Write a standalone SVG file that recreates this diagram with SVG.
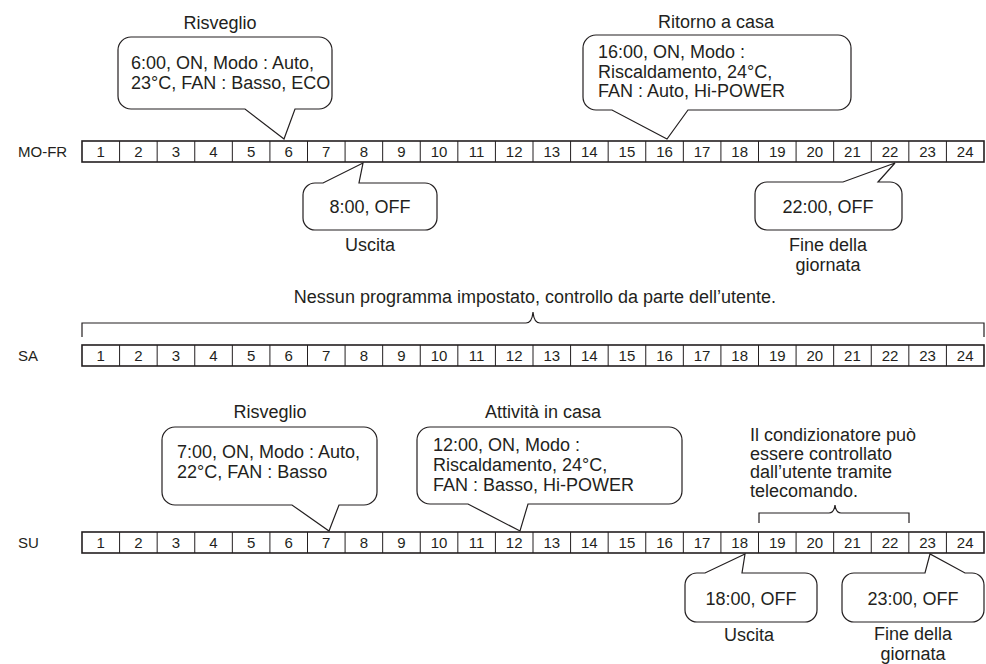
<svg xmlns="http://www.w3.org/2000/svg" xmlns:xlink="http://www.w3.org/1999/xlink" width="986" height="664" viewBox="0 0 986 664">
<style>
text{font-family:"Liberation Sans",Arial,sans-serif;fill:#231f20}
.t{font-size:18px}
.m{text-anchor:middle}
.num{font-size:15px;text-anchor:middle}
.lab{font-size:15px}
.co{fill:#fff;stroke:#231f20;stroke-width:1.2;stroke-linejoin:miter}
.row{fill:#fff;stroke:#231f20;stroke-width:1.6}
.div{fill:none;stroke:#231f20;stroke-width:1}
.br{fill:none;stroke:#231f20;stroke-width:1.2}
</style>
<defs>
<path id="divs" class="div" d="M119.58 0V21M157.17 0V21M194.75 0V21M232.33 0V21M269.92 0V21M307.5 0V21M345.08 0V21M382.67 0V21M420.25 0V21M457.83 0V21M495.42 0V21M533 0V21M570.58 0V21M608.17 0V21M645.75 0V21M683.33 0V21M720.92 0V21M758.5 0V21M796.08 0V21M833.67 0V21M871.25 0V21M908.83 0V21M946.42 0V21"/>
</defs>
<rect width="986" height="664" fill="#fff"/>

<g id="row-mofr">
<text class="lab" x="18" y="157">MO-FR</text>
<rect class="row" x="82" y="141" width="902" height="21"/>
<use xlink:href="#divs" y="141"/>
<text class="num" x="100.79" y="157">1</text><text class="num" x="138.38" y="157">2</text><text class="num" x="175.96" y="157">3</text><text class="num" x="213.54" y="157">4</text><text class="num" x="251.13" y="157">5</text><text class="num" x="288.71" y="157">6</text><text class="num" x="326.29" y="157">7</text><text class="num" x="363.88" y="157">8</text><text class="num" x="401.46" y="157">9</text><text class="num" x="439.04" y="157">10</text><text class="num" x="476.63" y="157">11</text><text class="num" x="514.21" y="157">12</text><text class="num" x="551.79" y="157">13</text><text class="num" x="589.38" y="157">14</text><text class="num" x="626.96" y="157">15</text><text class="num" x="664.54" y="157">16</text><text class="num" x="702.13" y="157">17</text><text class="num" x="739.71" y="157">18</text><text class="num" x="777.29" y="157">19</text><text class="num" x="814.88" y="157">20</text><text class="num" x="852.46" y="157">21</text><text class="num" x="890.04" y="157">22</text><text class="num" x="927.63" y="157">23</text><text class="num" x="965.21" y="157">24</text>
</g>

<g id="row-sa">
<text class="lab" x="18" y="361">SA</text>
<rect class="row" x="82" y="345" width="902" height="21"/>
<use xlink:href="#divs" y="345"/>
<text class="num" x="100.79" y="361">1</text><text class="num" x="138.38" y="361">2</text><text class="num" x="175.96" y="361">3</text><text class="num" x="213.54" y="361">4</text><text class="num" x="251.13" y="361">5</text><text class="num" x="288.71" y="361">6</text><text class="num" x="326.29" y="361">7</text><text class="num" x="363.88" y="361">8</text><text class="num" x="401.46" y="361">9</text><text class="num" x="439.04" y="361">10</text><text class="num" x="476.63" y="361">11</text><text class="num" x="514.21" y="361">12</text><text class="num" x="551.79" y="361">13</text><text class="num" x="589.38" y="361">14</text><text class="num" x="626.96" y="361">15</text><text class="num" x="664.54" y="361">16</text><text class="num" x="702.13" y="361">17</text><text class="num" x="739.71" y="361">18</text><text class="num" x="777.29" y="361">19</text><text class="num" x="814.88" y="361">20</text><text class="num" x="852.46" y="361">21</text><text class="num" x="890.04" y="361">22</text><text class="num" x="927.63" y="361">23</text><text class="num" x="965.21" y="361">24</text>
</g>

<g id="row-su">
<text class="lab" x="18" y="548">SU</text>
<rect class="row" x="82" y="532" width="902" height="21"/>
<use xlink:href="#divs" y="532"/>
<text class="num" x="100.79" y="548">1</text><text class="num" x="138.38" y="548">2</text><text class="num" x="175.96" y="548">3</text><text class="num" x="213.54" y="548">4</text><text class="num" x="251.13" y="548">5</text><text class="num" x="288.71" y="548">6</text><text class="num" x="326.29" y="548">7</text><text class="num" x="363.88" y="548">8</text><text class="num" x="401.46" y="548">9</text><text class="num" x="439.04" y="548">10</text><text class="num" x="476.63" y="548">11</text><text class="num" x="514.21" y="548">12</text><text class="num" x="551.79" y="548">13</text><text class="num" x="589.38" y="548">14</text><text class="num" x="626.96" y="548">15</text><text class="num" x="664.54" y="548">16</text><text class="num" x="702.13" y="548">17</text><text class="num" x="739.71" y="548">18</text><text class="num" x="777.29" y="548">19</text><text class="num" x="814.88" y="548">20</text><text class="num" x="852.46" y="548">21</text><text class="num" x="890.04" y="548">22</text><text class="num" x="927.63" y="548">23</text><text class="num" x="965.21" y="548">24</text>
</g>

<g id="connectors">
<path class="br" d="M82,337V323H526Q532,323 533,312Q534,323 540,323H984V337"/>
<path class="br" d="M759,523V513H829Q834,513 835,505Q836,513 841,513H909V523"/>
</g>

<g id="callout-mofr-6">
<text class="t m" x="220" y="29">Risveglio</text>
<path class="co" d="M131,37H319A13,13 0 0 1 332,50V96A13,13 0 0 1 319,109H295L284,139L245,109H131A13,13 0 0 1 118,96V50A13,13 0 0 1 131,37Z"/>
<text class="t" x="131" y="69">6:00, ON, Modo : Auto,</text>
<text class="t" x="131" y="89">23°C, FAN : Basso, ECO</text>
</g>

<g id="callout-mofr-16">
<text class="t m" x="716" y="28">Ritorno a casa</text>
<path class="co" d="M596,35H838A13,13 0 0 1 851,48V97A13,13 0 0 1 838,110H688L667,139L612,110H596A13,13 0 0 1 583,97V48A13,13 0 0 1 596,35Z"/>
<text class="t" x="598" y="58">16:00, ON, Modo :</text>
<text class="t" x="598" y="77.5">Riscaldamento, 24°C,</text>
<text class="t" x="598" y="97">FAN : Auto, Hi-POWER</text>
</g>

<g id="callout-mofr-8">
<path class="co" d="M315,183H323L363,163L359,183H425A12,12 0 0 1 437,195V218A12,12 0 0 1 425,230H315A12,12 0 0 1 303,218V195A12,12 0 0 1 315,183Z"/>
<text class="t m" x="370" y="213">8:00, OFF</text>
<text class="t m" x="370" y="251">Uscita</text>
</g>

<g id="callout-mofr-22">
<path class="co" d="M767,182H843L895,163L878,182H890A12,12 0 0 1 902,194V218A12,12 0 0 1 890,230H767A12,12 0 0 1 755,218V194A12,12 0 0 1 767,182Z"/>
<text class="t m" x="828" y="213">22:00, OFF</text>
<text class="t m" x="828" y="251">Fine della</text>
<text class="t m" x="828" y="271">giornata</text>
</g>

<g id="note-sa">
<text class="t m" x="535" y="303">Nessun programma impostato, controllo da parte dell’utente.</text>
</g>

<g id="callout-su-7">
<text class="t m" x="270" y="418">Risveglio</text>
<path class="co" d="M175,427H364A13,13 0 0 1 377,440V492A13,13 0 0 1 364,505H339L329,531L292,505H175A13,13 0 0 1 162,492V440A13,13 0 0 1 175,427Z"/>
<text class="t" x="177" y="458">7:00, ON, Modo : Auto,</text>
<text class="t" x="177" y="478">22°C, FAN : Basso</text>
</g>

<g id="callout-su-12">
<text class="t m" x="543" y="418">Attività in casa</text>
<path class="co" d="M430,427H669A13,13 0 0 1 682,440V491A13,13 0 0 1 669,504H528L520,531L468,504H430A13,13 0 0 1 417,491V440A13,13 0 0 1 430,427Z"/>
<text class="t" x="433" y="451">12:00, ON, Modo :</text>
<text class="t" x="433" y="471">Riscaldamento, 24°C,</text>
<text class="t" x="433" y="491">FAN : Basso, Hi-POWER</text>
</g>

<g id="note-su">
<text class="t" x="750" y="441">Il condizionatore può</text>
<text class="t" x="750" y="459.5">essere controllato</text>
<text class="t" x="750" y="478">dall’utente tramite</text>
<text class="t" x="750" y="496.5">telecomando.</text>
</g>

<g id="callout-su-18">
<path class="co" d="M697,573H705L745,554L742,573H805A12,12 0 0 1 817,585V610A12,12 0 0 1 805,622H697A12,12 0 0 1 685,610V585A12,12 0 0 1 697,573Z"/>
<text class="t m" x="751" y="605">18:00, OFF</text>
<text class="t m" x="749" y="641">Uscita</text>
</g>

<g id="callout-su-23">
<path class="co" d="M854,573H925L930,554L965,573H972A12,12 0 0 1 984,585V610A12,12 0 0 1 972,622H854A12,12 0 0 1 842,610V585A12,12 0 0 1 854,573Z"/>
<text class="t m" x="913" y="605">23:00, OFF</text>
<text class="t m" x="913" y="640">Fine della</text>
<text class="t m" x="913" y="660">giornata</text>
</g>
</svg>
